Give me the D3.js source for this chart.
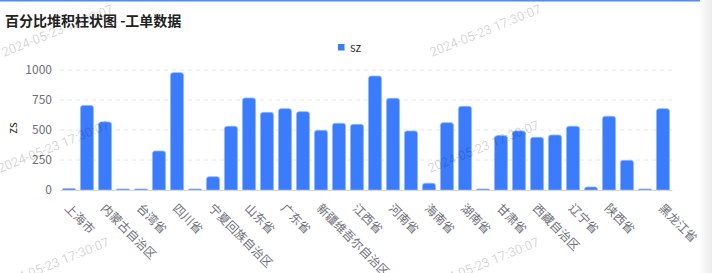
<!DOCTYPE html>
<html>
<head>
<meta charset="utf-8">
<script src="https://cdn.jsdelivr.net/npm/d3@7/dist/d3.min.js"></script>
<style>
  html, body { margin: 0; padding: 0; background: #fff; }
  svg { display: block; }
</style>
</head>
<body>
<svg id="chart" width="712" height="273"></svg>
<script>
const title = "百分比堆积柱状图 -工单数据";
const seriesName = "sz";
const yAxisName = "zs";
const watermarkText = "2024-05-23 17:30:07";

const categories = [
  "上海市", "云南省", "内蒙古自治区", "北京市", "台湾省", "吉林省", "四川省", "天津市",
  "宁夏回族自治区", "安徽省", "山东省", "山西省", "广东省", "广西壮族自治区", "新疆维吾尔自治区",
  "江苏省", "江西省", "河北省", "河南省", "浙江省", "海南省", "湖北省", "湖南省",
  "澳门特别行政区", "甘肃省", "福建省", "西藏自治区", "贵州省", "辽宁省", "重庆市",
  "陕西省", "青海省", "香港特别行政区", "黑龙江省"
];
const values = [
  12, 705, 567, 8, 8, 325, 978, 8,
  111, 531, 767, 647, 678, 653, 497,
  556, 547, 950, 764, 492, 56, 561, 697,
  8, 453, 492, 439, 458, 531, 25,
  614, 247, 8, 678
];
const yTicks = [0, 250, 500, 750, 1000];
const shownLabels = [
  "上海市", "内蒙古自治区", "台湾省", "四川省", "宁夏回族自治区", "山东省", "广东省",
  "新疆维吾尔自治区", "江西省", "河南省", "海南省", "湖南省", "甘肃省", "西藏自治区",
  "辽宁省", "陕西省", "黑龙江省"
];

const W = 712, H = 273;
const plot = { left: 60, right: 672, top: 70, bottom: 190 };
const FONT = "'Noto Sans CJK SC', 'Noto Sans', sans-serif";
const barColor = "#3a7cff";

const svg = d3.select("#chart");

// card decoration: right shadow + top accent line
const defs = svg.append("defs");
const grad = defs.append("linearGradient").attr("id", "shadow").attr("x1", 0).attr("x2", 1).attr("y1", 0).attr("y2", 0);
grad.append("stop").attr("offset", "0%").attr("stop-color", "#ffffff");
grad.append("stop").attr("offset", "100%").attr("stop-color", "#ececec");
svg.append("rect").attr("x", 698).attr("y", 0).attr("width", 14).attr("height", H).attr("fill", "url(#shadow)");
svg.append("rect").attr("x", 0).attr("y", 0).attr("width", 700).attr("height", 1.5).attr("fill", "#4a8df8");

// title
svg.append("text")
  .attr("x", 5).attr("y", 26)
  .attr("font-family", FONT).attr("font-size", 14).attr("font-weight", "bold")
  .attr("fill", "#222")
  .text(title);

const x = d3.scaleBand().domain(categories).range([plot.left, plot.right])
  .paddingInner(0.28).paddingOuter(0.14);
const y = d3.scaleLinear().domain([0, 1000]).range([plot.bottom, plot.top]);

// grid lines
svg.append("g").selectAll("line")
  .data(yTicks.filter(t => t !== 0))
  .join("line")
  .attr("x1", plot.left).attr("x2", plot.right)
  .attr("y1", d => y(d)).attr("y2", d => y(d))
  .attr("stroke", "#e3e6ec").attr("stroke-width", 1)
  .attr("stroke-dasharray", "4,4");

// y axis labels
const yAxis = d3.axisLeft(y).tickValues(yTicks).tickFormat(d3.format("d")).tickSize(0).tickPadding(8);
const gy = svg.append("g").attr("transform", `translate(${plot.left},0)`).call(yAxis);
gy.select(".domain").remove();
gy.selectAll("text").attr("font-family", FONT).attr("font-size", 12).attr("fill", "#6e7079");

// y axis title
svg.append("text")
  .attr("transform", `translate(17,128) rotate(-90)`)
  .attr("text-anchor", "middle")
  .attr("font-family", FONT).attr("font-size", 12).attr("fill", "#333")
  .text(yAxisName);

// bars (rounded top corners)
const r = 2.5;
function barPath(d, i) {
  const x0 = x(categories[i]), w = x.bandwidth();
  const y0 = y(d), yb = y(0);
  const h = yb - y0;
  const rr = Math.min(r, h, w / 2);
  return `M${x0},${yb} L${x0},${y0 + rr} Q${x0},${y0} ${x0 + rr},${y0} L${x0 + w - rr},${y0} Q${x0 + w},${y0} ${x0 + w},${y0 + rr} L${x0 + w},${yb} Z`;
}
svg.append("g").selectAll("path")
  .data(values)
  .join("path")
  .attr("d", barPath)
  .attr("fill", barColor)
  .attr("stroke", "#8fb4ff").attr("stroke-width", 0.8);

// x axis line
const xAxis = d3.axisBottom(x).tickSize(0).tickFormat(() => "");
const gx = svg.append("g").attr("transform", `translate(0,${plot.bottom})`).call(xAxis);
gx.select(".domain").attr("stroke", "#d3d6dd");

// x labels
svg.append("g").selectAll("text")
  .data(shownLabels)
  .join("text")
  .attr("transform", d => `translate(${x(d) + x.bandwidth() / 2 - 5},209) rotate(45)`)
  .attr("text-anchor", "start")
  .attr("font-family", FONT).attr("font-size", 12).attr("fill", "#6e7079")
  .text(d => d);

// legend
const lx = 338;
svg.append("rect").attr("x", lx).attr("y", 44).attr("width", 6.5).attr("height", 6.5).attr("fill", barColor);
svg.append("text").attr("x", lx + 12).attr("y", 52)
  .attr("font-family", FONT).attr("font-size", 12).attr("fill", "#333")
  .text(seriesName);

// watermark
const wmPos = [[4, 57], [0, 173], [0, 290], [432, 57], [430, 173], [430, 290]];
svg.append("g").selectAll("text")
  .data(wmPos)
  .join("text")
  .attr("transform", d => `translate(${d[0]},${d[1]}) rotate(-22)`)
  .attr("font-family", "Roboto, 'DejaVu Sans', sans-serif").attr("font-size", 13)
  .attr("fill", "#000").attr("fill-opacity", 0.18)
  .text(watermarkText);
</script>
</body>
</html>
